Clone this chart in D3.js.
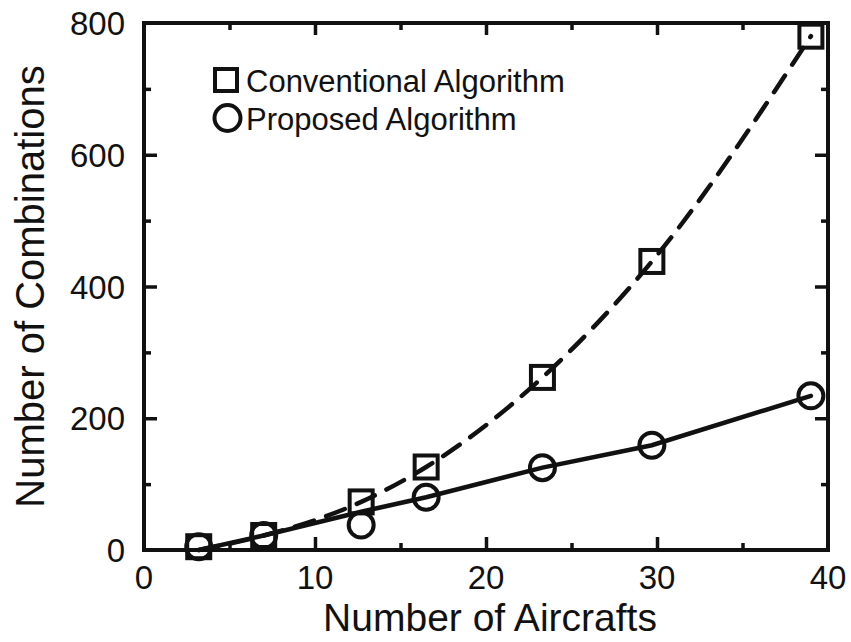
<!DOCTYPE html>
<html><head><meta charset="utf-8">
<script src="https://cdn.jsdelivr.net/npm/d3@7/dist/d3.min.js"></script>
<style>body{margin:0;background:#fff}svg{display:block}text{font-family:"Liberation Sans",Arial,Helvetica,sans-serif;fill:#111}</style>
</head><body>
<script>
// Data
const aircrafts = [3.2, 7.0, 12.7, 16.5, 23.3, 29.7, 39.0];
const conventional = [5, 22, 73, 126, 262, 438, 780];
const proposed = [5, 22, 38, 80, 125, 159, 234];
// Line traces drawn in the figure
const conventionalLineX = [3.2, 7.0, 12.7, 16.5, 23.3, 29.7, 39.0];
const conventionalLineY = [0, 22, 73, 126, 262, 438, 780];
const proposedLineX = [3.2, 7.0, 12.7, 16.5, 23.3, 29.7, 39.0];
const proposedLineY = [0, 22, 58, 80, 125, 159, 234];
const xTicks = [0, 10, 20, 30, 40];
const yTicks = [0, 200, 400, 600, 800];
const legendLabels = ["Conventional Algorithm", "Proposed Algorithm"];

const W = 851, H = 642;
const m = {left: 144, right: 851 - 828, top: 23, bottom: 642 - 550};
const svg = d3.select("body").append("svg").attr("width", W).attr("height", H);
const x = d3.scaleLinear().domain([0, 40]).range([m.left, W - m.right]);
const y = d3.scaleLinear().domain([0, 800]).range([H - m.bottom, m.top]);
const ink = "#111";

// frame
const g = svg.append("g");
g.append("rect").attr("x", x(0)).attr("y", y(800)).attr("width", x(40) - x(0)).attr("height", y(0) - y(800))
  .attr("fill", "none").attr("stroke", ink).attr("stroke-width", 4);

// ticks (inward) using axes
const xMinor = d3.range(5, 40, 10);
const yMinor = d3.range(100, 800, 200);
function styleAxis(sel){ sel.select(".domain").remove(); sel.selectAll("line").attr("stroke", ink).attr("stroke-width", 3.5); sel.selectAll("text").remove(); }
g.append("g").attr("transform", `translate(0,${y(0)})`).call(d3.axisBottom(x).tickValues(xTicks.slice(1, -1)).tickSize(-13)).call(styleAxis);
g.append("g").attr("transform", `translate(0,${y(0)})`).call(d3.axisBottom(x).tickValues(xMinor).tickSize(-7)).call(styleAxis);
g.append("g").attr("transform", `translate(0,${y(800)})`).call(d3.axisTop(x).tickValues(xTicks.slice(1, -1)).tickSize(-12)).call(styleAxis);
g.append("g").attr("transform", `translate(0,${y(800)})`).call(d3.axisTop(x).tickValues(xMinor).tickSize(-7)).call(styleAxis);
g.append("g").attr("transform", `translate(${x(0)},0)`).call(d3.axisLeft(y).tickValues(yTicks.slice(1, -1)).tickSize(-13)).call(styleAxis);
g.append("g").attr("transform", `translate(${x(0)},0)`).call(d3.axisLeft(y).tickValues(yMinor).tickSize(-7)).call(styleAxis);
g.append("g").attr("transform", `translate(${x(40)},0)`).call(d3.axisRight(y).tickValues(yTicks.slice(1, -1)).tickSize(-13)).call(styleAxis);
g.append("g").attr("transform", `translate(${x(40)},0)`).call(d3.axisRight(y).tickValues(yMinor).tickSize(-7)).call(styleAxis);

// tick labels
svg.append("g").selectAll("text").data(xTicks).join("text")
  .attr("x", d => x(d)).attr("y", 589).attr("text-anchor", "middle").attr("font-size", 33).text(d => d);
svg.append("g").selectAll("text").data(yTicks).join("text")
  .attr("x", 125).attr("y", d => y(d) + 12).attr("text-anchor", "end").attr("font-size", 33).text(d => d);

// axis titles
svg.append("text").attr("x", 490).attr("y", 631).attr("text-anchor", "middle").attr("font-size", 39).text("Number of Aircrafts");
svg.append("text").attr("transform", `translate(44,${(y(0) + y(800)) / 2}) rotate(-90)`).attr("text-anchor", "middle").attr("font-size", 40).text("Number of Combinations");

// lines
const line = d3.line().x(d => x(d[0])).y(d => y(d[1]));
svg.append("path").datum(d3.zip(conventionalLineX, conventionalLineY)).attr("d", line.curve(d3.curveMonotoneX))
  .attr("fill", "none").attr("stroke", ink).attr("stroke-width", 4.5).attr("stroke-dasharray", "20,13").attr("stroke-linecap", "round");
svg.append("path").datum(d3.zip(proposedLineX, proposedLineY)).attr("d", line.curve(d3.curveLinear))
  .attr("fill", "none").attr("stroke", ink).attr("stroke-width", 4.5).attr("stroke-linecap", "round");

// markers
const sq = 23;
svg.append("g").selectAll("rect").data(d3.zip(aircrafts, conventional)).join("rect")
  .attr("x", d => x(d[0]) - sq / 2).attr("y", d => y(d[1]) - sq / 2).attr("width", sq).attr("height", sq)
  .attr("fill", "none").attr("stroke", ink).attr("stroke-width", 4);
svg.append("g").selectAll("circle").data(d3.zip(aircrafts, proposed)).join("circle")
  .attr("cx", d => x(d[0])).attr("cy", d => y(d[1])).attr("r", 12.5)
  .attr("fill", "none").attr("stroke", ink).attr("stroke-width", 4);

// legend
const lg = svg.append("g");
lg.append("rect").attr("x", 215).attr("y", 69).attr("width", 22).attr("height", 22).attr("fill", "none").attr("stroke", ink).attr("stroke-width", 4);
lg.append("circle").attr("cx", 227.5).attr("cy", 118).attr("r", 13).attr("fill", "none").attr("stroke", ink).attr("stroke-width", 4);
lg.selectAll("text").data(legendLabels).join("text")
  .attr("x", 246).attr("y", (d, i) => 92 + i * 38).attr("font-size", 31).text(d => d);
</script>
</body></html>
